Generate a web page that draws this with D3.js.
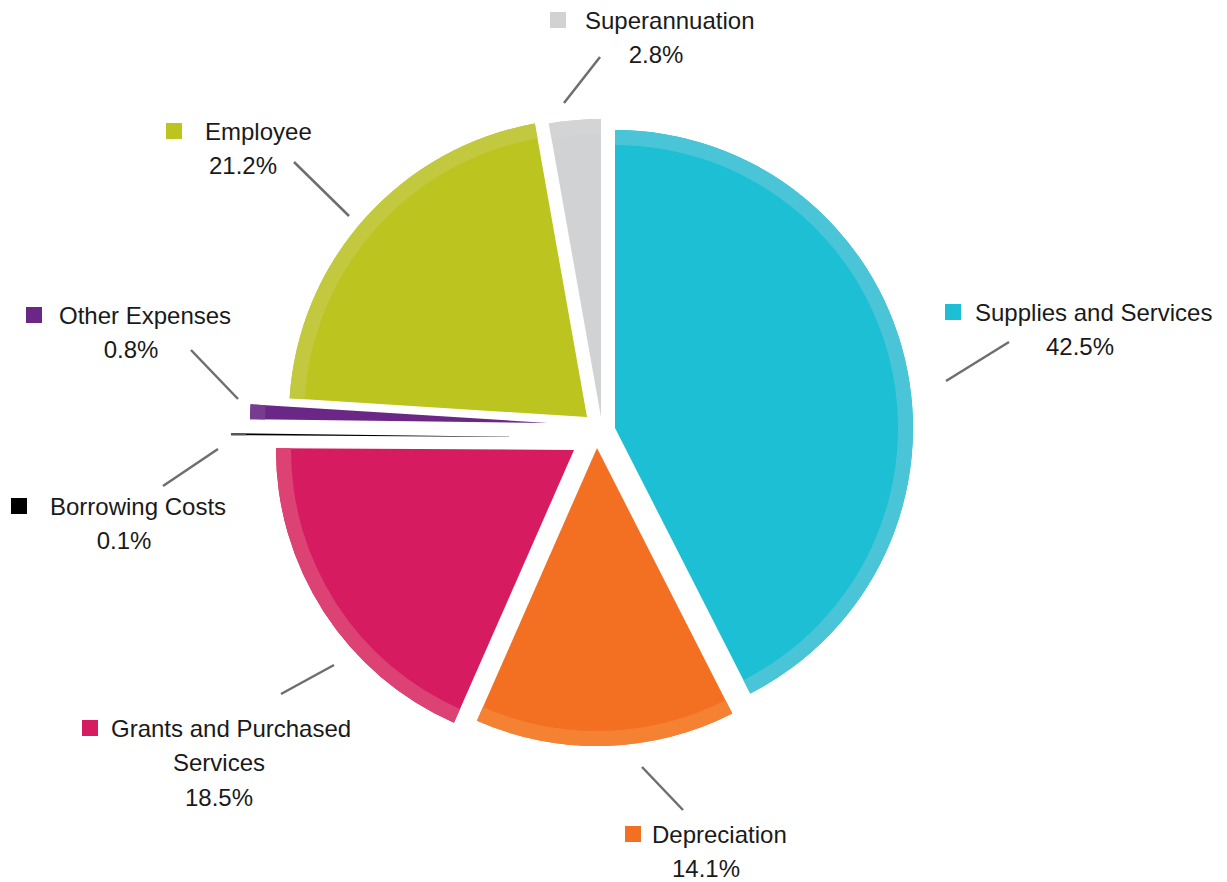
<!DOCTYPE html>
<html>
<head>
<meta charset="utf-8">
<script src="https://cdn.jsdelivr.net/npm/d3@7"></script>
<style>
  html, body { margin: 0; padding: 0; background: #ffffff; }
  svg { display: block; }
  text { font-family: "Liberation Sans", Arial, sans-serif; fill: #1a1a1a; }
</style>
</head>
<body>
<script>
// Expense breakdown (share of total, %)
const categories = [
  "Supplies and Services",
  "Depreciation",
  "Grants and Purchased Services",
  "Borrowing Costs",
  "Other Expenses",
  "Employee",
  "Superannuation"
];
const values = [42.5, 14.1, 18.5, 0.1, 0.8, 21.2, 2.8];

// Label text lines (the category name may wrap)
const labelLines = [
  ["Supplies and Services"],
  ["Depreciation"],
  ["Grants and Purchased", "Services"],
  ["Borrowing Costs"],
  ["Other Expenses"],
  ["Employee"],
  ["Superannuation"]
];

// Slice fill and the lighter rim band along the outer edge
const fillColors = ["#1dbfd5", "#f37022", "#d71b61", "#000000", "#6b2785", "#bcc41f", "#d1d2d4"];
const rimColors  = ["#4ac5d7", "#f58233", "#dc4273", "#5a5a5a", "#753c8f", "#c3c93f", "#d3d4d6"];

// Offset of each exploded slice from the pie centre [dx, dy]
const explode = [[15, -4], [-3, 16], [-26, 18], [-71, 5], [-52, -9], [-13, -15], [1, -15]];

// Label block layout: square left x, name x, first-line centre y, block centre x
const labelLayout = [
  { sx: 945, tx: 975, y: 312, cx: 1080 },
  { sx: 625, tx: 652, y: 834, cx: 706 },
  { sx: 82,  tx: 111, y: 728, cx: 219 },
  { sx: 11,  tx: 50,  y: 506, cx: 124 },
  { sx: 26,  tx: 59,  y: 315, cx: 131 },
  { sx: 166, tx: 205, y: 131, cx: 243 },
  { sx: 550, tx: 585, y: 20,  cx: 656 }
];

// Leader lines [x1, y1, x2, y2]
const leaders = [
  [946, 381, 1009, 342],
  [642, 767, 683, 810],
  [334, 665, 281, 694],
  [218, 449, 163, 486],
  [238, 399, 191, 350],
  [349, 216, 294, 162],
  [564, 103, 600, 57]
];

const W = 1227, H = 882;
const center = [600, 432];
const radius = 298;
const rimWidth = 15;
const squareSize = 16;
const lineGap = 34.5;
const fontSize = 24;

const svg = d3.select("body").append("svg")
  .attr("width", W)
  .attr("height", H);

const pie = d3.pie().sort(null).value(d => d);
const arcs = pie(values);

const arcFull = d3.arc().innerRadius(0).outerRadius(radius);
const arcRim = d3.arc().innerRadius(radius - rimWidth).outerRadius(radius);

const slices = svg.append("g")
  .attr("transform", `translate(${center[0]},${center[1]})`)
  .selectAll("g.slice")
  .data(arcs)
  .join("g")
  .attr("class", "slice")
  .attr("transform", (d, i) => `translate(${explode[i][0]},${explode[i][1]})`);

slices.append("path")
  .attr("d", arcFull)
  .attr("fill", (d, i) => fillColors[i]);

slices.append("path")
  .attr("d", arcRim)
  .attr("fill", (d, i) => rimColors[i]);

// Leader lines
svg.append("g")
  .selectAll("line")
  .data(leaders)
  .join("line")
  .attr("x1", d => d[0]).attr("y1", d => d[1])
  .attr("x2", d => d[2]).attr("y2", d => d[3])
  .attr("stroke", "#6d6e71")
  .attr("stroke-width", 2.5);

// Labels: colour square + name, wrapped lines, then the percentage
const fmt = d3.format(".1f");
const labels = svg.append("g")
  .selectAll("g.label")
  .data(categories)
  .join("g")
  .attr("class", "label");

labels.append("rect")
  .attr("x", (d, i) => labelLayout[i].sx)
  .attr("y", (d, i) => labelLayout[i].y - squareSize / 2)
  .attr("width", squareSize)
  .attr("height", squareSize)
  .attr("fill", (d, i) => fillColors[i]);

labels.append("text")
  .attr("x", (d, i) => labelLayout[i].tx)
  .attr("y", (d, i) => labelLayout[i].y)
  .attr("dominant-baseline", "central")
  .attr("font-size", fontSize)
  .text((d, i) => labelLines[i][0]);

labels.each(function (d, i) {
  const g = d3.select(this);
  const L = labelLayout[i];
  const extra = labelLines[i].slice(1);
  extra.forEach((t, k) => {
    g.append("text")
      .attr("x", L.cx)
      .attr("y", L.y + lineGap * (k + 1))
      .attr("text-anchor", "middle")
      .attr("dominant-baseline", "central")
      .attr("font-size", fontSize)
      .text(t);
  });
  g.append("text")
    .attr("x", L.cx)
    .attr("y", L.y + lineGap * (extra.length + 1))
    .attr("text-anchor", "middle")
    .attr("dominant-baseline", "central")
    .attr("font-size", fontSize)
    .text(fmt(values[i]) + "%");
});
</script>
</body>
</html>
